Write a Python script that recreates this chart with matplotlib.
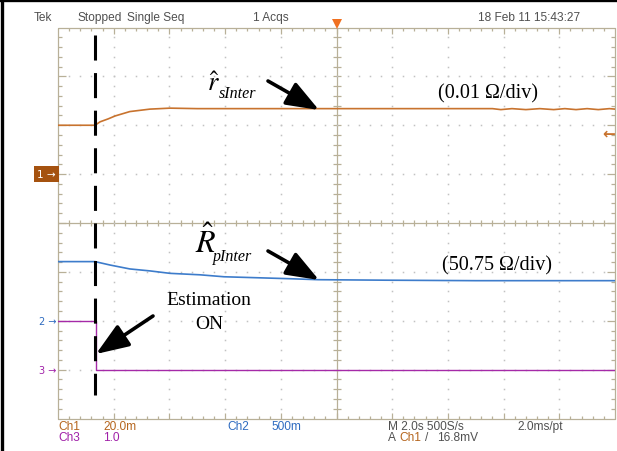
import matplotlib
matplotlib.use('Agg')
import matplotlib.pyplot as plt
from matplotlib.lines import Line2D
import numpy as np

plt.rcParams['mathtext.fontset'] = 'stix'

W, H = 617, 452

# ---------------- data (time in s, trace position in screen divisions) ----------
t_ch1 = [-10.0, -8.67, -8.49, -8.2, -7.95, -7.42, -6.70, -5.98, -5.0, -3.0, 0.0, 3.0,
         5.6, 5.9, 6.3, 6.8, 7.3, 7.8, 8.2, 8.6, 9.0, 9.4, 9.8, 10.0]
ch1_div = [2.00, 2.00, 2.07, 2.13, 2.19, 2.28, 2.33, 2.35, 2.34, 2.34, 2.34, 2.34,
           2.34, 2.32, 2.34, 2.32, 2.34, 2.32, 2.34, 2.32, 2.34, 2.32, 2.34, 2.33]

t_ch2 = [-10.0, -8.67, -8.13, -7.42, -6.70, -5.98, -4.90, -4.04, -1.67, -0.66, 1.74, 5.0, 10.0]
ch2_div = [-0.79, -0.79, -0.86, -0.94, -0.98, -1.03, -1.06, -1.10, -1.14, -1.16, -1.17, -1.18, -1.18]

t_ch3 = [-10.0, -8.65, -8.65, 10.0]
ch3_div = [-2.0, -2.0, -3.0, -3.0]

ch1_ref, ch2_ref, ch3_ref = 1.0, -2.0, -3.0
trig_level = 1.84
est_on_time = -8.67

header = ["Tek", "Stopped", "Single Seq", "1 Acqs", "18 Feb 11 15:43:27"]

c1, c2, c3 = '#C8732E', '#3D7CCB', '#A52AA8'
c1_txt, c2_txt, c3_txt, gray_txt = '#B5651D', '#2E6BC0', '#A020A8', '#505050'

# ---------------- figure ----------------
fig = plt.figure(figsize=(W / 100, H / 100), dpi=100)
X0, X1, YT, YB = 58.0, 615.0, 28.5, 419.5
ax = fig.add_axes([X0 / W, 1 - YB / H, (X1 - X0) / W, (YB - YT) / H])
ax.set_xlim(-10, 10)
ax.set_ylim(-4, 4)
ax.axis('off')

ppx = 20.0 / (X1 - X0)      # seconds per pixel
ppy = 8.0 / (YB - YT)       # divisions per pixel

gcol = '#B8B098'
dcol = '#C2C2C2'
lkw = dict(color=gcol, lw=0.9, zorder=1, clip_on=False, solid_capstyle='butt')

# frame and centre cross
ax.plot([-10, 10, 10, -10, -10], [4, 4, -4, -4, 4], **lkw)
ax.plot([0, 0], [-4, 4], **lkw)
ax.plot([-10, 10], [0, 0], **lkw)

xs_minor = np.round(np.arange(-10, 10.001, 0.4), 3)
ys_minor = np.round(np.arange(-4, 4.001, 0.2), 3)
for x in xs_minor[1:-1]:
    major = abs(x / 2 - round(x / 2)) < 1e-6
    ln = (6 if major else 3) * ppy
    ax.plot([x, x], [4, 4 - ln], **lkw)
    ax.plot([x, x], [-4, -4 + ln], **lkw)
    ax.plot([x, x], [-3.3 * ppy, 3.3 * ppy], **lkw)
for y in ys_minor[1:-1]:
    major = abs(y - round(y)) < 1e-6
    ln = (8 if major else 4) * ppx
    ax.plot([-10, -10 + ln], [y, y], **lkw)
    ax.plot([10, 10 - ln], [y, y], **lkw)
    ax.plot([-4 * ppx, 4 * ppx], [y, y], **lkw)

# dotted grid
dx, dy = [], []
for x in [-8, -6, -4, -2, 2, 4, 6, 8]:
    for y in ys_minor[1:-1]:
        dx.append(x); dy.append(y)
for y in [-3, -2, -1, 1, 2, 3]:
    for x in xs_minor[1:-1]:
        dx.append(x); dy.append(y)
ax.plot(dx, dy, ls='none', marker='s', ms=1.1, mew=0, color=dcol, zorder=1)

# traces
ax.plot(t_ch1, ch1_div, color=c1, lw=1.2, zorder=3)
ax.plot(t_ch2, ch2_div, color=c2, lw=1.2, zorder=3)
ax.plot(t_ch3, ch3_div, color=c3, lw=1.0, zorder=3)

# estimation ON dashed line
ax.plot([est_on_time, est_on_time], [(224 - 36) * ppy, (224 - 396) * ppy],
        color='black', lw=2.2, ls=(0, (8.2, 4.1)), zorder=5, clip_on=False,
        solid_capstyle='butt', dash_capstyle='butt')

# trigger position marker and level marker
ax.plot([0], [4 + 3.5 * ppy], marker='v', ms=7, color='#F07020', mew=0, clip_on=False, zorder=4)
ax.text(1.0, trig_level, '\u2190', transform=ax.get_yaxis_transform(), ha='right',
        va='center', color=c1, fontsize=11, family='DejaVu Sans', fontweight='bold')

# channel markers
ax.text(-0.004, ch1_ref, '1 \u2192', transform=ax.get_yaxis_transform(), ha='right', va='center',
        color='white', fontsize=7.5, family='DejaVu Sans',
        bbox=dict(boxstyle='square,pad=0.3', fc='#A5520F', ec='none'))
ax.text(-0.003, ch2_ref, '2 \u2192', transform=ax.get_yaxis_transform(), ha='right', va='center',
        color=c2_txt, fontsize=7, family='DejaVu Sans')
ax.text(-0.003, ch3_ref, '3 \u2192', transform=ax.get_yaxis_transform(), ha='right', va='center',
        color=c3_txt, fontsize=7, family='DejaVu Sans')

# ---------------- texts ----------------
def ft(x, y, s, **kw):
    fig.text(x / W, 1 - y / H, s, **kw)

hx = [34, 77, 127, 253, 478]
for x, s in zip(hx, header):
    ft(x, 18, s, fontsize=8.6, family='Liberation Sans', color=gray_txt, va='center')

sk = dict(fontsize=8.6, family='Liberation Sans', va='center')
ft(58, 427, 'Ch1', color=c1_txt, **sk)
ft(103, 427, '20.0m', color=c1_txt, **sk)
ft(227, 427, 'Ch2', color=c2_txt, **sk)
ft(271, 427, '500m', color=c2_txt, **sk)
ft(388, 427, 'M 2.0s 500S/s', color=gray_txt, **sk)
ft(517, 427, '2.0ms/pt', color=gray_txt, **sk)
ft(58, 438.5, 'Ch3', color=c3_txt, **sk)
ft(103, 438.5, '1.0', color=c3_txt, **sk)
ft(388, 438.5, 'A', color=gray_txt, **sk)
ft(399, 438.5, 'Ch1', color=c1_txt, **sk)
ft(425, 438.5, '/', color=gray_txt, **sk)
ft(437, 438.5, '16.8mV', color=gray_txt, **sk)

serif = 'Liberation Serif'
ft(207, 91, r'$\hat{r}$', fontsize=19, va='baseline')
ft(219, 97.5, 'sInter', fontsize=11.5, family=serif, style='italic', va='baseline')
ft(195, 253.5, r'$\hat{R}$', fontsize=23, va='baseline')
ft(213, 261, 'pInter', fontsize=11.5, family=serif, style='italic', va='baseline')
ft(438, 93.5, '(0.01 \u03a9/div)', fontsize=14.5, family=serif, va='center')
ft(442, 266, '(50.75 \u03a9/div)', fontsize=14.5, family=serif, va='center')
ft(209, 301, 'Estimation', fontsize=14, family=serif, va='center', ha='center')
ft(209, 325, 'ON', fontsize=14, family=serif, va='center', ha='center')

akw = dict(arrowstyle='-|>,head_length=1.0,head_width=0.38', lw=2.6, color='black',
           mutation_scale=20, shrinkA=0, shrinkB=0)
for (xt, yt), (xh, yh) in [((268, 82), (319, 111)), ((268, 252), (319, 281)),
                           ((153, 317), (96, 355))]:
    ax.annotate('', xy=(xh, H - yh), xycoords='figure pixels', xytext=(xt, H - yt),
                textcoords='figure pixels', arrowprops=akw, annotation_clip=False, zorder=6)

# outer black border (top and left)
fig.add_artist(Line2D([1.5 / W, 1.5 / W], [0, 1], transform=fig.transFigure, color='black', lw=2.4))
fig.add_artist(Line2D([0, 1], [1 - 1.2 / H, 1 - 1.2 / H], transform=fig.transFigure, color='black', lw=2.4))

fig.savefig('out.png', dpi=100, facecolor='white')
